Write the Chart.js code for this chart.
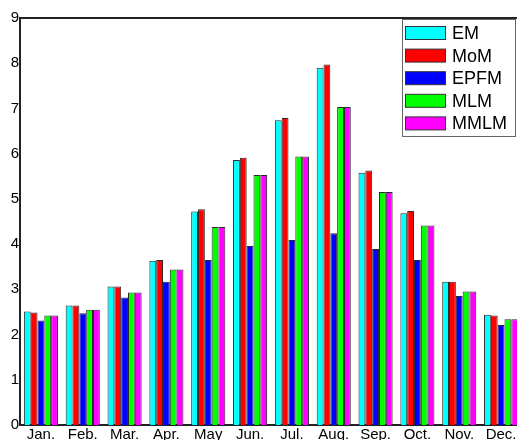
<!DOCTYPE html>
<html>
<head>
<meta charset="utf-8">
<script src="https://cdn.jsdelivr.net/npm/chart.js@4"></script>
<style>
  html, body { margin: 0; padding: 0; overflow: hidden; background: #fff; }
  #wrap { width: 522px; height: 440px; }
</style>
</head>
<body>
<div id="wrap"><canvas id="monthChart" width="522" height="440"></canvas></div>
<script>
const months = ['Jan.', 'Feb.', 'Mar.', 'Apr.', 'May', 'Jun.', 'Jul.', 'Aug.', 'Sep.', 'Oct.', 'Nov.', 'Dec.'];

const emValues   = [2.51, 2.64, 3.06, 3.63, 4.72, 5.86, 6.74, 7.90, 5.58, 4.68, 3.17, 2.44];
const momValues  = [2.49, 2.64, 3.06, 3.65, 4.77, 5.91, 6.79, 7.97, 5.63, 4.73, 3.17, 2.42];
const epfmValues = [2.31, 2.47, 2.82, 3.17, 3.65, 3.96, 4.09, 4.24, 3.89, 3.65, 2.85, 2.21];
const mlmValues  = [2.42, 2.55, 2.93, 3.44, 4.38, 5.53, 5.94, 7.03, 5.15, 4.41, 2.95, 2.34];
const mmlmValues = [2.42, 2.55, 2.93, 3.44, 4.38, 5.53, 5.94, 7.03, 5.15, 4.41, 2.95, 2.34];

const yTicks = [0, 1, 2, 3, 4, 5, 6, 7, 8, 9];

const fontFamily = '"Liberation Sans", Arial, Helvetica, sans-serif';

function makeSet(label, data, color) {
    return {
        label: label,
        data: data,
        backgroundColor: color,
        borderColor: '#2a2a2a',
        borderWidth: 1,
    };
}

// legend box drawn inside the plot, top right
const boxLegend = {
    id: 'boxLegend',
    afterDraw(chart) {
        const ctx = chart.ctx;
        const area = chart.chartArea;
        ctx.save();
        // top frame line
        ctx.strokeStyle = '#222';
        ctx.lineWidth = 2;
        ctx.beginPath();
        ctx.moveTo(area.left, area.top);
        ctx.lineTo(area.right, area.top);
        ctx.stroke();

        const x0 = 402, y0 = 19, w = 113, h = 117;
        ctx.fillStyle = '#fff';
        ctx.fillRect(x0, y0, w, h);
        ctx.strokeStyle = '#666';
        ctx.lineWidth = 1;
        ctx.strokeRect(x0 + 0.5, y0 + 0.5, w, h);

        ctx.font = '18px ' + fontFamily;
        ctx.textBaseline = 'middle';
        chart.data.datasets.forEach((ds, i) => {
            const cy = 33 + i * 22.6;
            ctx.fillStyle = ds.backgroundColor;
            ctx.fillRect(405, cy - 6.5, 40, 13);
            ctx.strokeStyle = '#333';
            ctx.strokeRect(405.5, cy - 6.5, 40, 13);
            ctx.fillStyle = '#000';
            ctx.fillText(ds.label, 452, cy + 1);
        });
        ctx.restore();
    }
};

const chartElem = document.getElementById('monthChart').getContext('2d');

const chartData = {
    labels: months,
    datasets: [
        makeSet('EM', emValues, '#00ffff'),
        makeSet('MoM', momValues, '#ff0000'),
        makeSet('EPFM', epfmValues, '#0000ff'),
        makeSet('MLM', mlmValues, '#00ff00'),
        makeSet('MMLM', mmlmValues, '#ff00ff'),
    ],
};

const chartConfig = {
    type: 'bar',
    data: chartData,
    options: {
        responsive: false,
        animation: false,
        layout: { padding: { top: 18, right: 0, left: 0, bottom: 0 } },
        datasets: {
            bar: { categoryPercentage: 0.815, barPercentage: 1.0 }
        },
        scales: {
            x: {
                grid: { display: false, drawTicks: false },
                border: { display: true, color: '#222', width: 2 },
                ticks: {
                    color: '#000',
                    padding: 1,
                    maxRotation: 0,
                    autoSkip: false,
                    font: { family: fontFamily, size: 15 },
                },
                afterFit(scale) { scale.height = 15; },
            },
            y: {
                min: 0,
                max: 9,
                grid: { display: false, drawTicks: false },
                border: { display: true, color: '#222', width: 2 },
                afterBuildTicks(scale) {
                    scale.ticks = yTicks.map(v => ({ value: v }));
                },
                ticks: {
                    color: '#000',
                    padding: 1,
                    font: { family: fontFamily, size: 15 },
                },
                afterFit(scale) { scale.width = 20; },
            },
        },
        plugins: {
            legend: { display: false },
            tooltip: { enabled: false },
        }
    },
    plugins: [boxLegend],
};

const monthChart = new Chart(chartElem, chartConfig);
</script>
</body>
</html>
